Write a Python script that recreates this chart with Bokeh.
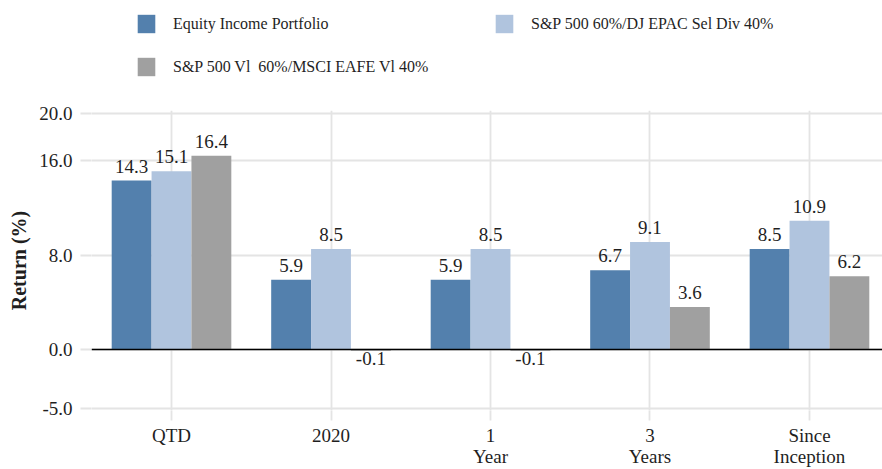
from bokeh.plotting import figure
from bokeh.layouts import column
from bokeh.models import (ColumnDataSource, FixedTicker, Span, Legend, LegendItem,
                          NumeralTickFormatter, Range1d, LabelSet)
from bokeh.transform import dodge
from bokeh.embed import file_html
from bokeh.resources import INLINE

# ---- data ----
categories = ["QTD", "2020", "1\nYear", "3\nYears", "Since\nInception"]
series_names = ["Equity Income Portfolio",
                "S&P 500 60%/DJ EPAC Sel Div 40%",
                "S&P 500 Vl  60%/MSCI EAFE Vl 40%"]
equity_income = [14.3, 5.9, 5.9, 6.7, 8.5]
sp_djepac = [15.1, 8.5, 8.5, 9.1, 10.9]
sp_msci = [16.4, -0.1, -0.1, 3.6, 6.2]
y_ticks = [-5, 0, 8, 16, 20]
colors = ["#5380ad", "#b0c4de", "#a0a0a0"]

FONT = "Liberation Serif"
TXT = "#1f1f1f"
GRID = "#e4e4e4"

xpos = list(range(1, len(categories) + 1))
series = [equity_income, sp_djepac, sp_msci]
offsets = [-0.25, 0.0, 0.25]

W = 882
# ---- main chart ----
p = figure(width=W, height=369,
           x_range=Range1d(0.4984, 5.4577), y_range=Range1d(-5.164, 20.233),
           output_backend="svg", toolbar_location=None,
           min_border_left=91, min_border_right=0,
           min_border_top=10, min_border_bottom=59)
p.outline_line_color = None
p.background_fill_color = "white"

# ---- legend strip ----
lg = figure(width=W, height=100, x_range=Range1d(0, 1), y_range=Range1d(0, 1),
            output_backend="svg", toolbar_location=None,
            x_axis_type=None, y_axis_type=None,
            min_border_left=91, min_border_right=0, min_border_top=0, min_border_bottom=0)
lg.outline_line_color = None
lg.xgrid.visible = False
lg.ygrid.visible = False

items = []
for vals, name, col, off in zip(series, series_names, colors, offsets):
    src = ColumnDataSource(dict(x=xpos, v=vals))
    p.vbar(x=dodge("x", off, range=p.x_range), top="v", bottom=0, width=0.25,
           source=src, fill_color=col, line_color=None)
    proxy = lg.vbar(x="x", top="v", bottom=0, width=0.25, source=src,
                    fill_color=col, line_color=None, visible=False)
    items.append(LegendItem(label=name, renderers=[proxy]))
    pos = [(x, v) for x, v in zip(xpos, vals) if v >= 0]
    neg = [(x, v) for x, v in zip(xpos, vals) if v < 0]
    for subset, base, yoff in ((pos, "alphabetic", 8), (neg, "top", -1)):
        if not subset:
            continue
        lsrc = ColumnDataSource(dict(x=[s[0] for s in subset], v=[s[1] for s in subset],
                                     label=[f"{s[1]:.1f}" for s in subset]))
        p.add_layout(LabelSet(x=dodge("x", off, range=p.x_range), y="v", text="label",
                              source=lsrc, text_align="center", text_baseline=base,
                              y_offset=yoff, text_font=FONT, text_font_size="19px",
                              text_color=TXT))

p.add_layout(Span(location=0, dimension="width", line_color="black", line_width=1.6))

# legend grid fills column by column: order items so rows read as in the source chart
legend = Legend(items=[items[0], items[2], items[1]], ncols=2, location=(44, 22),
                glyph_width=22, glyph_height=23, label_standoff=16,
                label_width=300, spacing=20, padding=0, margin=0,
                border_line_color=None, background_fill_alpha=0,
                inactive_fill_alpha=0,
                label_text_font=FONT, label_text_font_size="16px",
                label_text_color=TXT)
lg.add_layout(legend, "center")

# axes
p.xaxis.ticker = FixedTicker(ticks=xpos)
p.xaxis.major_label_overrides = {x: c for x, c in zip(xpos, categories)}
p.yaxis.ticker = FixedTicker(ticks=y_ticks)
p.yaxis.formatter = NumeralTickFormatter(format="0.0")
p.yaxis.axis_label = "Return (%)"
p.yaxis.axis_label_text_font = FONT
p.yaxis.axis_label_text_font_style = "bold"
p.yaxis.axis_label_text_font_size = "20px"
p.yaxis.axis_label_text_color = TXT
p.yaxis.axis_label_standoff = 6

for ax in (p.xaxis, p.yaxis):
    ax.axis_line_color = None
    ax.minor_tick_line_color = None
    ax.major_tick_line_color = GRID
    ax.major_tick_line_width = 1.8
    ax.major_tick_in = 0
    ax.major_label_text_font = FONT
    ax.major_label_text_color = TXT
p.xaxis.major_tick_out = 10
p.xaxis.major_label_standoff = 4
p.xaxis.major_label_text_font_size = "19px"
p.xaxis.major_label_text_line_height = 1.0
p.yaxis.major_tick_out = 11
p.yaxis.major_label_standoff = 8
p.yaxis.major_label_text_font_size = "19px"

p.xgrid.grid_line_color = GRID
p.ygrid.grid_line_color = GRID
p.xgrid.grid_line_width = 1.8
p.ygrid.grid_line_width = 1.8

layout = column(lg, p, spacing=0)
open("out.html", "w").write(file_html(layout, INLINE))
